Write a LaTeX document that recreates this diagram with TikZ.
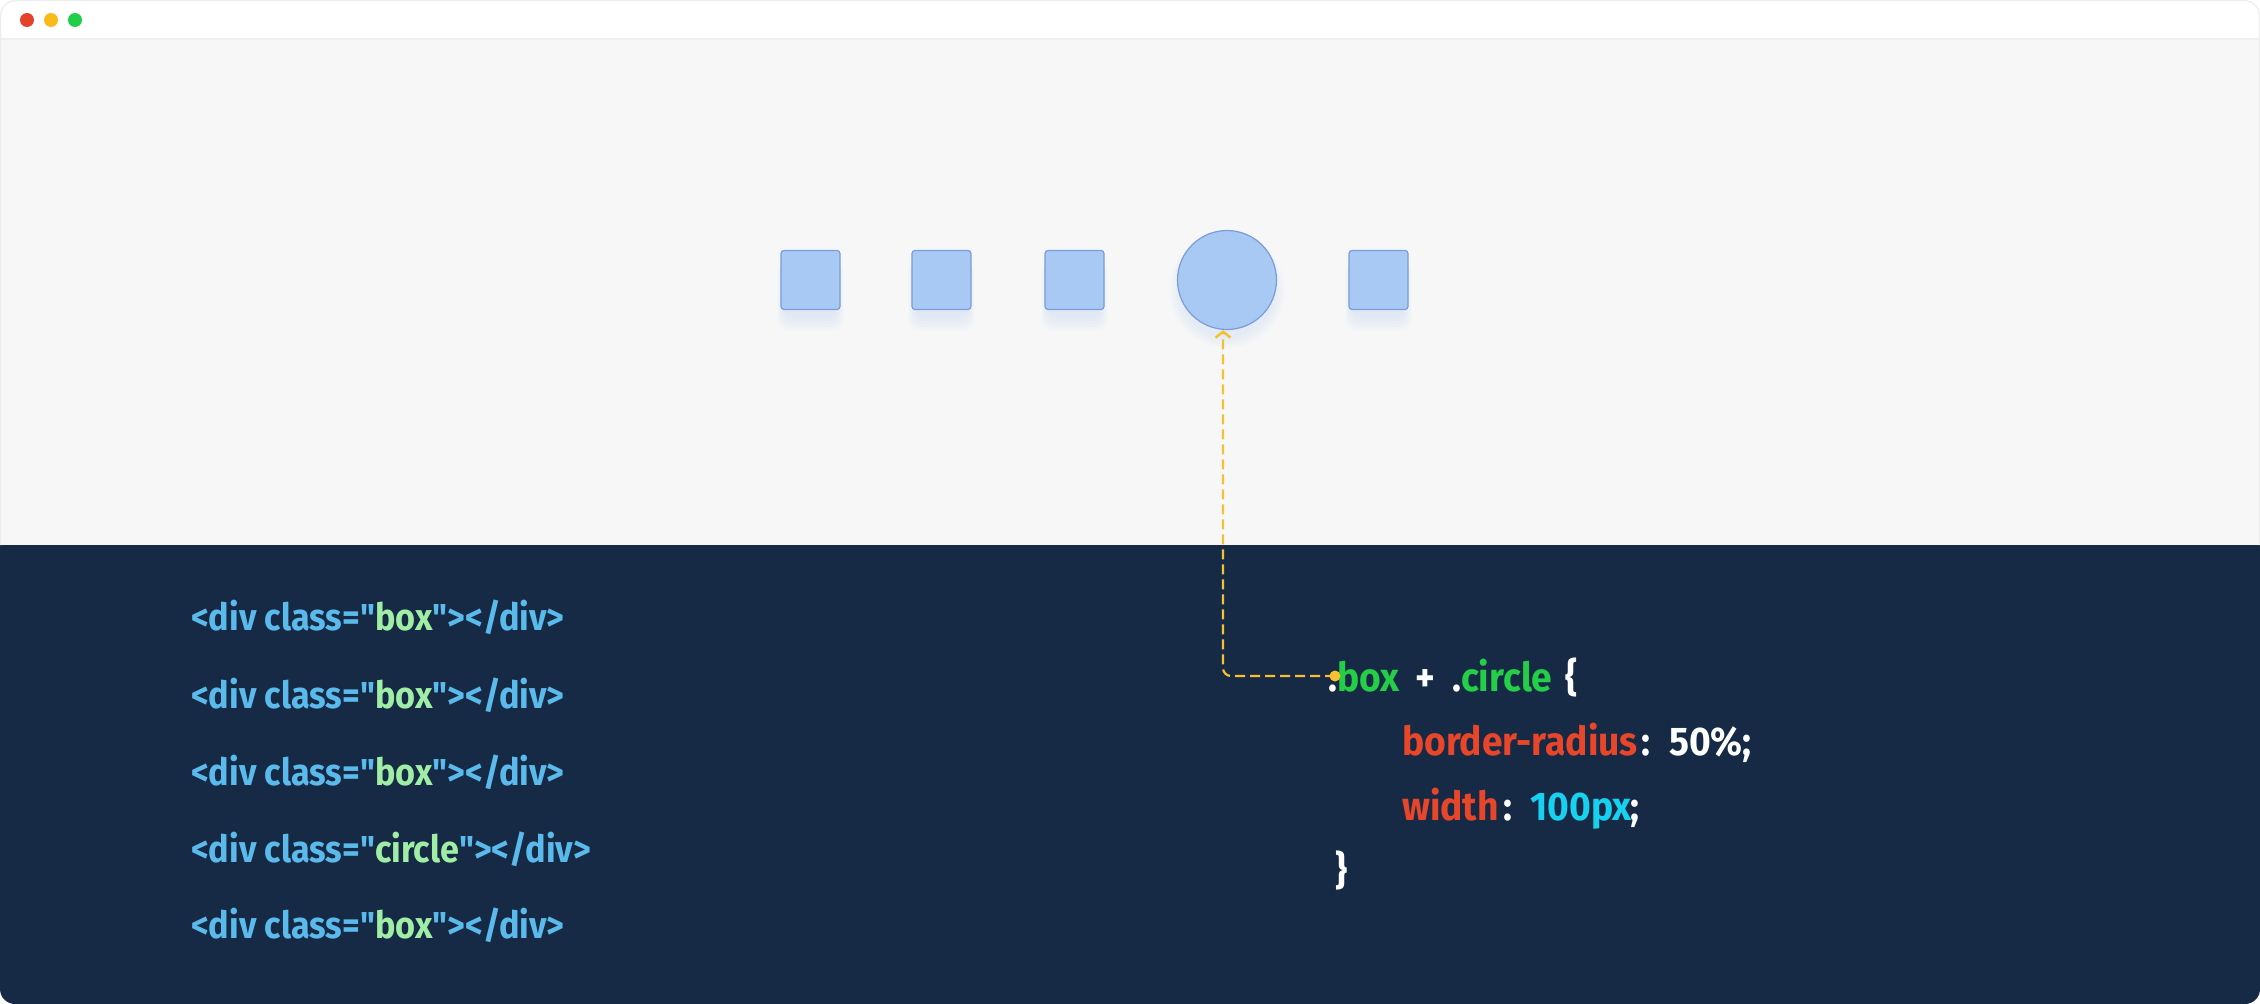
\documentclass[tikz,border=0pt]{standalone}
\usepackage{fontspec}
\newfontfamily\codefont{Fira Sans}[FakeStretch=0.93]
\newfontfamily\htmlfont{Fira Sans}[FakeStretch=0.912]
\usetikzlibrary{arrows.meta}
\definecolor{darkbg}{RGB}{23,42,69}
\definecolor{lightbg}{RGB}{247,247,248}
\definecolor{htmlblue}{RGB}{90,186,236}
\definecolor{htmlgreen}{RGB}{160,238,165}
\definecolor{cssgreen}{RGB}{36,206,70}
\definecolor{cssred}{RGB}{232,70,42}
\definecolor{csscyan}{RGB}{22,210,240}
\definecolor{conny}{RGB}{247,192,48}
\definecolor{boxfill}{RGB}{169,201,245}
\definecolor{boxline}{RGB}{122,156,216}
\definecolor{dotred}{RGB}{229,66,42}
\definecolor{dotyellow}{RGB}{249,187,27}
\definecolor{dotgreen}{RGB}{31,207,74}
\tikzset{
  sqbox/.style={draw=boxline, line width=1.2pt, fill=boxfill, rounded corners=3pt, minimum size=59pt, inner sep=0pt},
  circbox/.style={circle, draw=boxline, line width=1.2pt, fill=boxfill, minimum size=99pt, inner sep=0pt},
  shade/.style={fill=boxfill, opacity=0.06, rounded corners=10pt},
  html/.style={anchor=base west, inner sep=0pt, text=htmlblue, font=\htmlfont\bfseries\fontsize{37.5}{37.5}\selectfont},
  css/.style={anchor=base west, inner sep=0pt, text=white, font=\codefont\bfseries\fontsize{40}{40}\selectfont},
  conn/.style={draw=conny, line width=2.2pt, dash pattern=on 10pt off 5pt, rounded corners=8pt},
  wdot/.style={circle, inner sep=0pt, minimum size=14pt}
}
\begin{document}
\begin{tikzpicture}[x=1pt,y=-1pt]
\useasboundingbox (0,0) rectangle (2260,1004);
\fill[white] (0,0) rectangle (2260,1004);
% window
\fill[white, rounded corners=15pt] (0,0) rectangle (2260,80);
\fill[lightbg] (0,39) rectangle (2260,545);
\draw[black!6, line width=1.5pt] (0,39) -- (2260,39);
\fill[darkbg, rounded corners=15pt] (0,545) rectangle (2260,1004);
\fill[darkbg] (0,545) rectangle (2260,600);
\draw[black!7, line width=1.2pt, rounded corners=15pt] (0.6,545) -- (0.6,0.6) -- (2259.4,0.6) -- (2259.4,545);
% title dots
\node[wdot, fill=dotred] (d1) at (27,20) {};
\node[wdot, fill=dotyellow] (d2) at (51,20) {};
\node[wdot, fill=dotgreen] (d3) at (75,20) {};
% shadows
\foreach \cx in {810.5,941.5,1074.5,1378.5}{
  \foreach \e in {0,3,6,9,12}{
    \fill[shade] (\cx-26-\e*0.6,262) rectangle (\cx+26+\e*0.6,318+\e);
  }
}
\foreach \e in {0,4,8,12}{
  \fill[boxfill, opacity=0.06] (1227,290) circle (48+\e*0.8);
}
% shapes
\node[sqbox] (s1) at (810.5,280) {};
\node[sqbox] (s2) at (941.5,280) {};
\node[sqbox] (s3) at (1074.5,280) {};
\node[circbox] (c) at (1227,280) {};
\node[sqbox] (s5) at (1378.5,280) {};
% html code
\node[html] (h1) at (191,630) {<div class="\textcolor{htmlgreen}{box}"></div>};
\node[html] (h2) at (191,708) {<div class="\textcolor{htmlgreen}{box}"></div>};
\node[html] (h3) at (191,785) {<div class="\textcolor{htmlgreen}{box}"></div>};
\node[html] (h4) at (191,862) {<div class="\textcolor{htmlgreen}{circle}"></div>};
\node[html] (h5) at (191,938) {<div class="\textcolor{htmlgreen}{box}"></div>};
% css code
\node[css] (k1) at (1328,691) {.\textcolor{cssgreen}{box}};
\node[css] (k2) at (1415,691) {+};
\node[css] (k3) at (1452,691) {.\textcolor{cssgreen}{circle}};
\node[css] (k4) at (1565,691) {\{};
\node[css, text=cssred] (k5) at (1402,755) {border-radius};
\node[css] (k6) at (1641,755) {:};
\node[css] (k7) at (1669,755) {50\%;};
\node[css, text=cssred] (k8) at (1402,820) {width};
\node[css] (k9) at (1503,820) {:};
\node[css, text=csscyan] (k10) at (1530,820) {100px};
\node[css] (k11) at (1630,820) {;};
\node[css] (k12) at (1335,884) {\}};
% connector
\coordinate (dot) at (1335,676);
\draw[conn, -{Straight Barb[length=6pt,width=15pt,line width=2.4pt]}] (dot) -| ([xshift=-4pt]c.south);
\fill[conny] (dot) circle (5.5);
\end{tikzpicture}
\end{document}
